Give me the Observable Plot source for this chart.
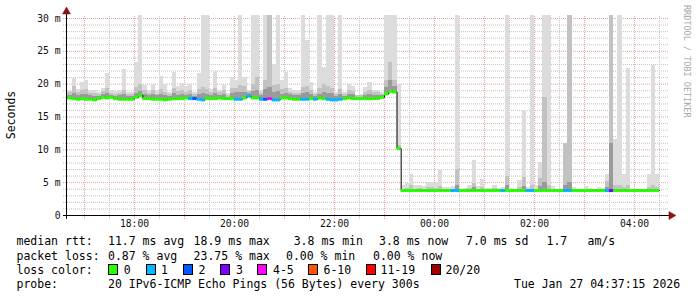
<!DOCTYPE html>
<html><head><meta charset="utf-8">
<script src="https://cdn.jsdelivr.net/npm/d3@7"></script>
<script src="https://cdn.jsdelivr.net/npm/@observablehq/plot@0.6"></script>
<style>
html,body{margin:0;padding:0;background:#fff;}
#wrap{position:relative;width:697px;height:297px;overflow:hidden;background:#fff;font-family:"DejaVu Sans Mono",monospace;}
#wrap svg{position:absolute;left:0;top:0;}
.t{position:absolute;white-space:pre;font-size:11.5px;line-height:14px;color:#000;}
.sw{position:absolute;width:8px;height:9px;border:1px solid #000;}
</style></head><body><div id="wrap"></div>
<script>
// ---- data (one bar per 5-minute step, starting 16:35) ----
const startTime = new Date(2026,0,26,16,35);
const stepMinutes = 5;
const median = [
17.9,17.9,17.8,17.7,17.8,17.7,17.7,17.6,17.8,18.0,
17.9,18.0,17.8,17.7,17.7,17.7,17.7,18.0,18.3,17.8,
17.8,17.7,17.7,17.7,17.6,17.7,17.8,17.8,17.8,17.9,
17.8,17.8,17.7,17.6,17.8,17.8,17.8,17.9,17.8,17.8,
17.8,17.7,17.7,17.9,18.2,17.9,17.9,17.7,17.7,17.8,
17.6,17.6,17.9,17.9,17.8,17.7,17.7,17.7,17.7,17.8,
17.7,17.9,17.8,17.7,17.6,17.6,17.7,17.8,17.9,17.8,
17.8,17.8,17.8,17.8,17.8,17.8,18.0,18.5,18.9,18.8,
10.2,3.8,3.8,3.8,3.8,3.8,3.8,3.8,3.8,3.8,
3.8,3.8,3.8,3.8,3.8,3.8,3.8,3.8,3.8,3.8,
3.8,3.8,3.8,3.8,3.8,3.8,3.8,3.8,3.8,3.8,
3.8,3.8,3.8,3.8,3.8,3.8,3.8,3.8,3.8,3.8,
3.8,3.8,3.8,3.8,3.8,3.8,3.8,3.8,3.8,3.8,
3.8,3.8,3.8,3.8,3.8,3.8,3.8,3.8,3.8,3.8,
3.8,3.8,3.8];
const loss = [
2,0,0,0,0,0,0,0,0,0,
0,0,0,0,0,0,0,0,0,0,
0,0,0,0,0,0,0,0,0,0,
1,2,1,1,0,0,0,0,0,0,
0,1,1,0,1,0,0,1,2,4,
1,1,0,0,0,0,0,1,1,0,
1,0,0,1,1,1,1,0,0,0,
0,0,0,0,0,0,0,0,0,0,
0,0,0,0,0,0,0,0,0,0,
0,0,0,1,1,0,0,0,0,0,
0,0,0,0,0,1,0,0,0,0,
0,1,1,0,0,0,0,0,0,0,
1,1,0,0,0,0,0,0,0,0,
1,3,0,0,0,0,0,0,0,0,
0,0,0];
const smokeMax = [
19.8,19.0,20.9,19.2,20.2,20.5,19.0,19.1,18.8,19.3,
21.6,19.1,18.9,19.0,22.2,18.8,18.8,23.3,31,19.8,
19.0,20.0,19.0,21.2,20.0,18.8,21.8,19.6,20.1,19.6,
20.0,18.7,21.6,31,31,19.2,21.9,19.1,19.8,18.6,
21.0,20.6,31,21.0,19.1,31,31,19.0,31,31,
23.0,31,20.5,21.8,19.3,19.0,19.0,31,26.7,20.2,
18.7,31,22.5,31,31,18.7,31,18.7,20.0,19.6,
18.3,18.5,19.5,20.3,19.1,19.1,18.8,31,31,31,
20.0,4.5,4.8,6.2,4.5,4.6,4.4,5.0,5.0,4.9,
6.9,4.3,4.3,4.4,31,4.0,4.1,4.5,8.4,4.4,
5.5,4.1,4.1,4.6,4.1,4.3,31,4.1,4.0,5.4,
16.0,4.3,31,4.5,8.1,31,31,4.4,4.0,4.0,
10.9,31,4.3,4.0,4.0,4.4,4.1,4.0,4.3,4.1,
6.2,31,11.5,31,6.2,22.4,4.0,4.0,4.0,4.0,
6.2,22.8,6.2];
const smokeMid = [
18.9,18.7,19.6,18.8,19.0,19.2,18.6,18.6,18.4,18.9,
19.3,18.6,18.5,18.6,19.0,18.4,18.4,19.5,20.0,19.0,
18.6,19.1,18.5,19.2,18.8,18.4,19.4,18.9,19.0,18.8,
19.0,18.4,19.2,19.5,19.2,18.7,19.4,18.7,19.0,18.3,
19.3,19.4,19.8,19.6,18.9,20.0,21.0,18.6,20.5,31,
19.8,20.0,19.2,19.3,18.8,18.6,18.6,19.5,19.6,19.0,
18.4,19.3,20.0,19.6,19.4,18.4,19.2,18.4,19.0,18.9,
18.2,18.3,18.8,19.1,18.7,18.7,18.5,20.5,23.3,20.5,
10.6,4.0,4.1,4.6,4.0,4.1,4.0,4.3,4.3,4.1,
4.4,4.0,4.0,4.0,7.0,3.9,4.0,4.1,4.9,4.0,
4.3,4.0,4.0,4.1,4.0,4.0,6.0,4.0,3.9,4.3,
5.8,4.0,4.5,4.0,5.6,18.0,4.6,4.0,3.9,3.9,
10.9,31,4.0,3.9,3.9,4.0,4.0,3.9,4.0,4.0,
5.2,31,4.5,4.6,4.3,4.5,3.9,3.9,3.9,3.9,
4.3,4.6,4.3];
const smokeDark = [
18.3,18.3,18.6,18.2,18.4,18.5,18.2,18.1,18.1,18.5,
18.6,18.3,18.1,18.2,18.4,18.1,18.1,18.6,18.9,18.4,
18.2,18.5,18.2,18.5,18.2,18.1,18.6,18.3,18.4,18.3,
18.4,18.1,18.5,18.6,18.5,18.3,18.6,18.3,18.5,18.0,
18.6,18.7,18.8,18.8,18.6,18.9,19.0,18.2,19.2,19.5,
18.8,18.9,18.5,18.6,18.4,18.2,18.3,18.6,18.7,18.4,
18.1,18.5,18.8,18.6,18.6,18.1,18.5,18.1,18.4,18.4,
18.0,18.0,18.3,18.5,18.3,18.3,18.3,19.5,20.5,19.6,
10.3,3.9,3.9,3.9,3.9,3.9,3.9,3.9,3.9,3.9,
3.9,3.9,3.9,3.9,4.6,3.9,3.9,3.9,4.3,3.9,
3.9,3.9,3.9,3.9,3.9,3.9,4.5,3.9,3.9,3.9,
4.4,3.9,3.9,3.9,4.4,5.0,3.9,3.9,3.9,3.9,
4.5,5.0,3.9,3.9,3.9,3.9,3.9,3.9,3.9,3.9,
4.3,11.0,3.9,3.9,3.9,3.9,3.9,3.9,3.9,3.9,
3.9,3.9,3.9];
const lossLabels = ["0","1","2","3","4-5","6-10","11-19","20/20"];
const lossColors = ["#26ff00","#00b8ff","#0059ff","#7e00ff","#ff00ff","#ff5500","#ff0000","#a10000"];
const yTicks = [0,5,10,15,20,25,30];
const yTickLabels = ["0","5 m","10 m","15 m","20 m","25 m","30 m"];
const xTickLabels = ["18:00","20:00","22:00","00:00","02:00","04:00"];
const statsRtt = ["median rtt:","11.7 ms avg","18.9 ms max","3.8 ms min","3.8 ms now","7.0 ms sd","1.7","am/s"];
const statsLoss = ["packet loss:","0.87 % avg","23.75 % max","0.00 % min","0.00 % now"];
const probeText = ["probe:","20 IPv6-ICMP Echo Pings (56 Bytes) every 300s","Tue Jan 27 04:37:15 2026"];
const yTitle = "Seconds";
const watermark = "RRDTOOL / TOBI OETIKER";

// ---- build ----
const bars = median.map((m,i)=>({
  t0: d3.timeMinute.offset(startTime, i*stepMinutes),
  t1: d3.timeMinute.offset(startTime, (i+1)*stepMinutes),
  med: m, color: lossColors[loss[i]], max: smokeMax[i], mid: smokeMid[i], dark: smokeDark[i]
}));
const linePts = bars.map(b=>({t:b.t0, v:b.med})).concat([{t: bars[bars.length-1].t1, v: bars[bars.length-1].med}]);
const xTickDates = xTickLabels.map(s=>{const [h,m]=s.split(":").map(Number); return new Date(2026,0,h>=12?26:27,h,m);});
const x0 = new Date(2026,0,26,16,38,24), x1 = new Date(2026,0,27,4,40,48);
const yTop = 30.457;
const hours = d3.timeHour.range(x0, x1);
const halfHours = d3.timeMinute.every(30).range(x0, x1).filter(d=>d.getMinutes()===30);
const yMinor = d3.range(1,31).filter(v=>v%5!==0);
const yMajor = [5,10,15,20,25,30];
const gridLeft = d3.timeSecond.offset(x0,-216);
const axisRight = d3.timeSecond.offset(x1, 180);
const minorC = "#c4c4c4", majorC = "#e9a0a0";
const arrowC = "#8a1414";
const arrowTop = [{t: x0, v: 31.05}];
const arrowRight = [{t: d3.timeSecond.offset(x1, 200), v: 0}];

const chart = Plot.plot({
  width: 697, height: 232,
  marginLeft: 66, marginRight: 29, marginTop: 15, marginBottom: 17,
  x: {type: "time", domain: [x0, x1]},
  y: {domain: [0, yTop]},
  style: {fontFamily: "DejaVu Sans Mono", fontSize: "9.7px", color: "#111", background: "transparent", overflow: "visible"},
  marks: [
    Plot.ruleY(yMinor, {y: d=>d, x1: ()=>gridLeft, x2: ()=>x1, stroke: minorC, strokeDasharray: "1,1"}),
    Plot.ruleX(halfHours, {x: d=>d, y1: -0.6, y2: yTop, stroke: minorC, strokeDasharray: "1,1"}),
    Plot.ruleY(yMajor, {y: d=>d, x1: ()=>gridLeft, x2: ()=>x1, stroke: majorC, strokeDasharray: "1,1"}),
    Plot.ruleX(hours, {x: d=>d, y1: -0.6, y2: yTop, stroke: majorC, strokeDasharray: "1,1"}),
    Plot.rect(bars, {x1: "t0", x2: "t1", y1: "med", y2: "max", fill: "#dcdcdc", clip: true, shapeRendering: "crispEdges"}),
    Plot.rect(bars, {x1: "t0", x2: "t1", y1: "med", y2: "mid", fill: "#c2c2c2", clip: true, shapeRendering: "crispEdges"}),
    Plot.rect(bars, {x1: "t0", x2: "t1", y1: "med", y2: "dark", fill: "#9a9a9a", clip: true, shapeRendering: "crispEdges"}),
    Plot.line(linePts, {x: "t", y: "v", curve: "step-after", stroke: "#000", strokeWidth: 1, clip: true}),
    Plot.ruleY(bars, {y: "med", x1: "t0", x2: "t1", stroke: "color", strokeWidth: 3, clip: true}),
    Plot.ruleY([0], {y: d=>d, x1: ()=>gridLeft, x2: ()=>axisRight, stroke: "#000"}),
    Plot.ruleX([x0], {x: d=>d, y1: -0.6, y2: 30.9, stroke: "#000"}),
    Plot.dot(arrowTop, {x: "t", y: "v", symbol: "triangle", r: 3, fill: arrowC, stroke: arrowC, strokeWidth: 0.5}),
    Plot.dot(arrowRight, {x: "t", y: "v", symbol: "triangle", r: 3, rotate: 90, fill: arrowC, stroke: arrowC, strokeWidth: 0.5}),
    Plot.axisY(yTicks, {tickFormat: d=>yTickLabels[yTicks.indexOf(d)], tickSize: 0, tickPadding: 6, label: null}),
    Plot.axisX(xTickDates, {tickFormat: d=>xTickLabels[xTickDates.findIndex(e=>+e===+d)], tickSize: 0, tickPadding: 5, label: null})
  ]
});
const wrap = document.getElementById("wrap");
wrap.appendChild(chart);

function addText(txt, x, yc, cls){
  const s = document.createElement("div");
  s.className = cls || "t";
  s.textContent = txt;
  s.style.left = x + "px";
  s.style.top = (yc - 7) + "px";
  wrap.appendChild(s);
  return s;
}
// y title
const yt = addText(yTitle, 0, 0);
yt.style.left = "10.5px"; yt.style.top = "114.5px";
yt.style.transform = "translate(-50%,-50%) rotate(-90deg)";
// watermark
const wm = document.createElement("div");
wm.textContent = watermark;
Object.assign(wm.style, {position:"absolute", left:"691.5px", top:"5px", fontSize:"8.5px", lineHeight:"10px", color:"#a8a8a8", whiteSpace:"pre", transformOrigin:"0 0", transform:"rotate(90deg)"});
wrap.appendChild(wm);

// legend lines
const rttX = [16.5,108,193.6,293.7,379,466,546.5,587.5];
statsRtt.forEach((s,i)=>addText(s, rttX[i], 241));
const lossX = [16.5,108,193.6,286,373];
statsLoss.forEach((s,i)=>addText(s, lossX[i], 255.5));
addText("loss color:", 16.5, 269.5);
const swX = [108,145.5,182.5,220,257,308,366,431];
const lbX = [123.7,161,198.5,236,273,323.5,380.5,445.5];
lossLabels.forEach((l,i)=>{
  const b = document.createElement("div");
  b.className = "sw";
  b.style.left = swX[i]+"px"; b.style.top = "264px"; b.style.background = lossColors[i];
  wrap.appendChild(b);
  addText(l, lbX[i], 269.5);
});
const probeX = [16.5,108,514];
probeText.forEach((s,i)=>addText(s, probeX[i], 284));
</script></body></html>
